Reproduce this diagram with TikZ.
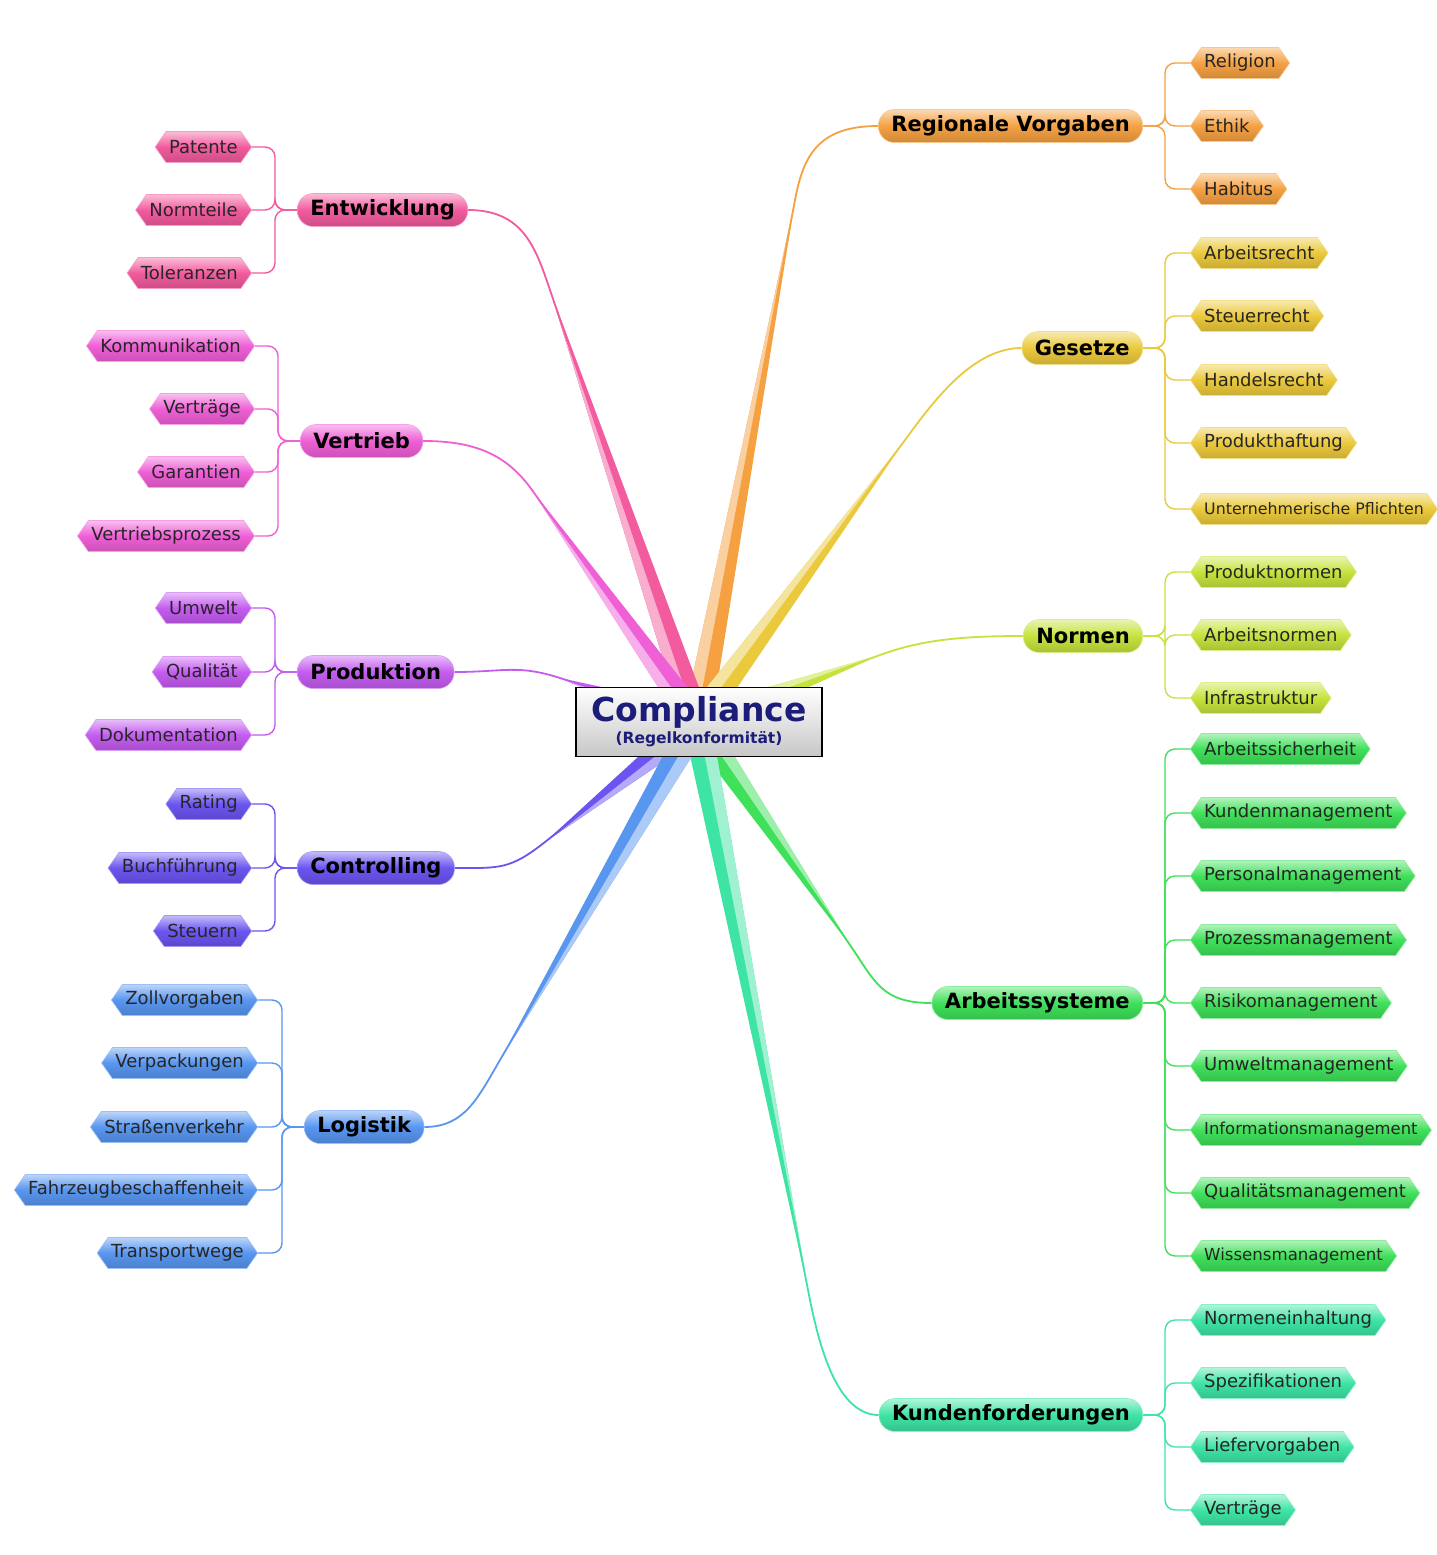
\documentclass[tikz,border=0pt]{standalone}
\usepackage{fontspec}
\setmainfont{DejaVu Sans}
\usetikzlibrary{shapes.symbols,calc,backgrounds}

\definecolor{cReg}{HTML}{F5A142}
\definecolor{cGes}{HTML}{EBC93C}
\definecolor{cNor}{HTML}{C5E33D}
\definecolor{cArb}{HTML}{3FE05A}
\definecolor{cKun}{HTML}{3EE4A4}
\definecolor{cEnt}{HTML}{F25B9E}
\definecolor{cVer}{HTML}{EF5FD6}
\definecolor{cPro}{HTML}{C45CF0}
\definecolor{cCon}{HTML}{6A55F0}
\definecolor{cLog}{HTML}{5896F0}
\definecolor{navy}{HTML}{1C1C7A}

\tikzset{
  centrebox/.style={align=center, minimum width=246pt, minimum height=69pt, inner sep=0pt,
    draw=black, line width=1.3pt, top color=white, bottom color=black!22,
    font=\bfseries, text=navy},
  mainbox/.style={rounded corners=16pt, minimum height=33pt, inner xsep=13pt, inner ysep=0pt,
    font=\bfseries\fontsize{21}{24}\selectfont, text=black,
    top color=#1!40!white, bottom color=#1!85!black, middle color=#1,
    draw=#1!60!white, line width=0.6pt},
  leafbox/.style={shape=signal, signal to=west and east, signal pointer angle=110,
    minimum height=31pt, inner xsep=3pt, inner ysep=0pt,
    font=\fontsize{18}{20}\selectfont, text=black!85,
    top color=#1!40!white, bottom color=#1!85!black, middle color=#1,
    draw=#1!60!white, line width=0.6pt},
  twig/.style={draw=#1, line width=1.4pt, rounded corners=10pt},
  stem/.style={draw=#1, line width=1.8pt},
}

% thick tapered branch from the centre out to a main node
\newcommand{\branch}[4]{%
  \fill[#3] (#2) -- ($(C)!14pt!90:(#2)$) -- ($(C)!14pt!-90:(#2)$) -- cycle;
  \fill[#3!50!white] (#2) -- ($(C)!14pt!90:(#2)$) -- (C) -- cycle;
  \draw[stem=#3] (#1) .. controls +(#4) and ($(#2)!-45pt!(C)$) .. (#2) -- (C);
}

\begin{document}
\begin{tikzpicture}[x=1pt,y=-1pt]
\useasboundingbox (0,0) rectangle (1436,1555);

% centre
\node[centrebox] (cmp) at (699,722) {\fontsize{33}{36}\selectfont Compliance\\[2pt]\fontsize{15.5}{17}\selectfont (Regelkonformität)};
\coordinate (C) at (697,722);

% main topics, right
\node[mainbox=cReg, anchor=east] (reg) at (1143,126)  {Regionale Vorgaben};
\node[mainbox=cGes, anchor=east] (ges) at (1143,348)  {Gesetze};
\node[mainbox=cNor, anchor=east] (nor) at (1143,636)  {Normen};
\node[mainbox=cArb, anchor=east] (arb) at (1143,1003) {Arbeitssysteme};
\node[mainbox=cKun, anchor=east] (kun) at (1143,1415) {Kundenforderungen};

% main topics, left
\node[mainbox=cEnt, anchor=west] (ent) at (297,210)  {Entwicklung};
\node[mainbox=cVer, anchor=west] (ver) at (300,441)  {Vertrieb};
\node[mainbox=cPro, anchor=west] (pro) at (297,672)  {Produktion};
\node[mainbox=cCon, anchor=west] (con) at (297,868)  {Controlling};
\node[mainbox=cLog, anchor=west] (lgs) at (304,1127) {Logistik};

% leaves, right
\node[leafbox=cReg, anchor=west] (rel) at (1190,63)  {Religion};
\node[leafbox=cReg, anchor=west] (eth) at (1190,126) {Ethik};
\node[leafbox=cReg, anchor=west] (hab) at (1190,189) {Habitus};

\node[leafbox=cGes, anchor=west] (ars) at (1190,253) {Arbeitsrecht};
\node[leafbox=cGes, anchor=west] (str) at (1190,316) {Steuerrecht};
\node[leafbox=cGes, anchor=west] (hdr) at (1190,380) {Handelsrecht};
\node[leafbox=cGes, anchor=west] (prh) at (1190,443) {Produkthaftung};
\node[leafbox=cGes, anchor=west, font=\fontsize{15.8}{18}\selectfont] (upf) at (1190,509) {Unternehmerische Pflichten};

\node[leafbox=cNor, anchor=west] (prn) at (1190,572) {Produktnormen};
\node[leafbox=cNor, anchor=west] (arn) at (1190,635) {Arbeitsnormen};
\node[leafbox=cNor, anchor=west] (inf) at (1190,698) {Infrastruktur};

\node[leafbox=cArb, anchor=west] (asi) at (1190,749)  {Arbeitssicherheit};
\node[leafbox=cArb, anchor=west] (kdm) at (1190,813)  {Kundenmanagement};
\node[leafbox=cArb, anchor=west] (psm) at (1190,876)  {Personalmanagement};
\node[leafbox=cArb, anchor=west] (pzm) at (1190,940)  {Prozessmanagement};
\node[leafbox=cArb, anchor=west] (rim) at (1190,1003) {Risikomanagement};
\node[leafbox=cArb, anchor=west] (uwm) at (1190,1066) {Umweltmanagement};
\node[leafbox=cArb, anchor=west, font=\fontsize{16.4}{19}\selectfont] (ifm) at (1190,1130) {Informationsmanagement};
\node[leafbox=cArb, anchor=west] (qum) at (1190,1193) {Qualitätsmanagement};
\node[leafbox=cArb, anchor=west, font=\fontsize{16.6}{19}\selectfont] (wim) at (1190,1256) {Wissensmanagement};

\node[leafbox=cKun, anchor=west] (nei) at (1190,1320) {Normeneinhaltung};
\node[leafbox=cKun, anchor=west] (spz) at (1190,1383) {Spezifikationen};
\node[leafbox=cKun, anchor=west] (lfv) at (1190,1447) {Liefervorgaben};
\node[leafbox=cKun, anchor=west] (vtk) at (1190,1510) {Verträge};

% leaves, left
\node[leafbox=cEnt, anchor=east] (pat) at (252,147) {Patente};
\node[leafbox=cEnt, anchor=east] (nmt) at (252,210) {Normteile};
\node[leafbox=cEnt, anchor=east] (tol) at (252,273) {Toleranzen};

\node[leafbox=cVer, anchor=east] (kom) at (255,346) {Kommunikation};
\node[leafbox=cVer, anchor=east] (vtg) at (255,409) {Verträge};
\node[leafbox=cVer, anchor=east] (gar) at (255,472) {Garantien};
\node[leafbox=cVer, anchor=east] (vtp) at (255,536) {Vertriebsprozess};

\node[leafbox=cPro, anchor=east] (umw) at (252,608) {Umwelt};
\node[leafbox=cPro, anchor=east] (qua) at (252,672) {Qualität};
\node[leafbox=cPro, anchor=east] (dok) at (252,735) {Dokumentation};

\node[leafbox=cCon, anchor=east] (rat) at (252,804) {Rating};
\node[leafbox=cCon, anchor=east] (buf) at (252,868) {Buchführung};
\node[leafbox=cCon, anchor=east] (stn) at (252,931) {Steuern};

\node[leafbox=cLog, anchor=east] (zol) at (258,1000) {Zollvorgaben};
\node[leafbox=cLog, anchor=east] (vpk) at (258,1063) {Verpackungen};
\node[leafbox=cLog, anchor=east] (sve) at (258,1127) {Straßenverkehr};
\node[leafbox=cLog, anchor=east] (fzb) at (258,1190) {Fahrzeugbeschaffenheit};
\node[leafbox=cLog, anchor=east] (tpw) at (258,1253) {Transportwege};

\begin{pgfonlayer}{background}
\fill[white] (0,0) rectangle (1436,1555);

% knees of the branches
\coordinate (kreg) at (795,200);
\coordinate (kges) at (905,440);
\coordinate (knor) at (880,655);
\coordinate (karb) at (850,945);
\coordinate (kkun) at (808,1290);
\coordinate (kent) at (550,290);
\coordinate (kver) at (532,490);
\coordinate (kpro) at (560,678);
\coordinate (kcon) at (545,842);
\coordinate (klgs) at (500,1060);

\branch{reg.west}{kreg}{cReg}{-60,0}
\branch{ges.west}{kges}{cGes}{-50,0}
\branch{nor.west}{knor}{cNor}{-60,0}
\branch{arb.west}{karb}{cArb}{-50,0}
\branch{kun.west}{kkun}{cKun}{-45,0}
\branch{ent.east}{kent}{cEnt}{55,0}
\branch{ver.east}{kver}{cVer}{50,0}
\branch{pro.east}{kpro}{cPro}{50,0}
\branch{con.east}{kcon}{cCon}{45,0}
\branch{lgs.east}{klgs}{cLog}{40,0}

% twigs to the leaves
\foreach \l in {rel,eth,hab} \draw[twig=cReg] (reg.east) -- ++(22,0) |- (\l.west);
\foreach \l in {ars,str,hdr,prh,upf} \draw[twig=cGes] (ges.east) -- ++(22,0) |- (\l.west);
\foreach \l in {prn,arn,inf} \draw[twig=cNor] (nor.east) -- ++(22,0) |- (\l.west);
\foreach \l in {asi,kdm,psm,pzm,rim,uwm,ifm,qum,wim} \draw[twig=cArb] (arb.east) -- ++(22,0) |- (\l.west);
\foreach \l in {nei,spz,lfv,vtk} \draw[twig=cKun] (kun.east) -- ++(22,0) |- (\l.west);
\foreach \l in {pat,nmt,tol} \draw[twig=cEnt] (ent.west) -- ++(-22,0) |- (\l.east);
\foreach \l in {kom,vtg,gar,vtp} \draw[twig=cVer] (ver.west) -- ++(-22,0) |- (\l.east);
\foreach \l in {umw,qua,dok} \draw[twig=cPro] (pro.west) -- ++(-22,0) |- (\l.east);
\foreach \l in {rat,buf,stn} \draw[twig=cCon] (con.west) -- ++(-22,0) |- (\l.east);
\foreach \l in {zol,vpk,sve,fzb,tpw} \draw[twig=cLog] (lgs.west) -- ++(-22,0) |- (\l.east);
\end{pgfonlayer}
\end{tikzpicture}
\end{document}
